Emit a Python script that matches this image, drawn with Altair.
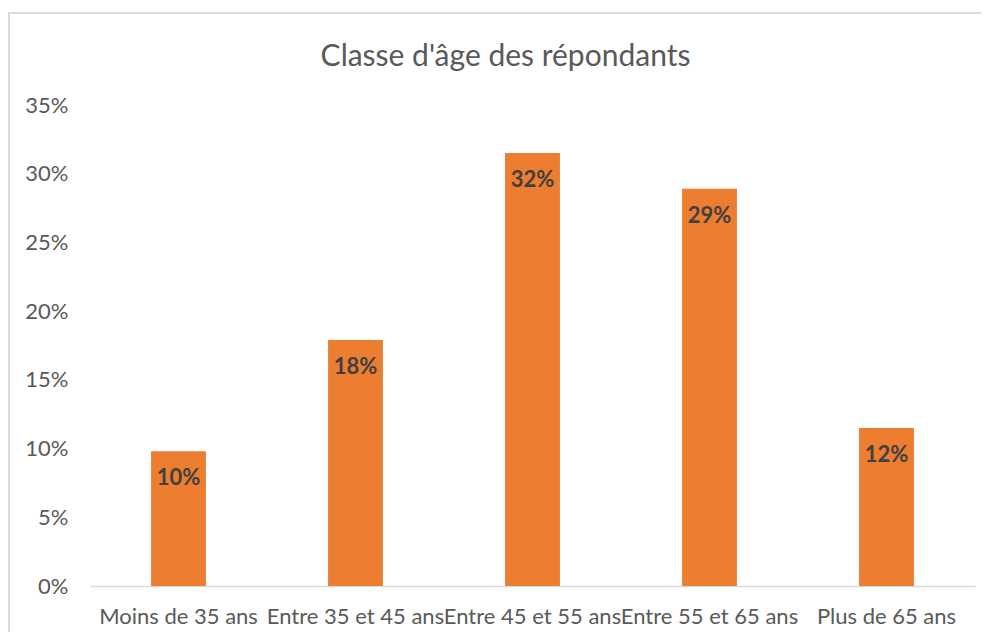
import altair as alt
import pandas as pd

categories = ["Moins de 35 ans", "Entre 35 et 45 ans", "Entre 45 et 55 ans",
              "Entre 55 et 65 ans", "Plus de 65 ans"]
values = [0.098, 0.179, 0.315, 0.289, 0.115]
labels = ["10%", "18%", "32%", "29%", "12%"]

df = pd.DataFrame({"cat": categories, "val": values, "lab": labels})

FONT = "Lato"
GREY = "#595959"

x_enc = alt.X("cat:N", sort=categories, title=None,
              scale=alt.Scale(paddingInner=0.69, paddingOuter=0.345),
              axis=alt.Axis(labelAngle=0, labelFontSize=22, labelColor=GREY, labelFont=FONT,
                            ticks=False, domainColor="#d9d9d9", domainWidth=1.5,
                            labelPadding=20, labelLimit=300))
y_enc = alt.Y("val:Q", title=None,
              scale=alt.Scale(domain=[0, 0.35], nice=False),
              axis=alt.Axis(format=".0%", values=[0, 0.05, 0.1, 0.15, 0.2, 0.25, 0.3, 0.35],
                            grid=False, domain=False, ticks=False, labelFontSize=22,
                            labelColor=GREY, labelFont=FONT, labelPadding=22))

border = alt.Chart(df).mark_rect(filled=False, stroke="#d9d9d9", strokeWidth=2).encode(
    x=alt.value(-81), x2=alt.value(920), y=alt.value(-92), y2=alt.value(560)
)

bars = alt.Chart(df).mark_bar(color="#ED7D31").encode(x=x_enc, y=y_enc)

text = alt.Chart(df).mark_text(dy=27, baseline="middle", fontWeight="bold", fontSize=22,
                               color="#404040", font=FONT).encode(
    x=alt.X("cat:N", sort=categories), y="val:Q", text="lab:N")

chart = alt.layer(border, bars, text).properties(
    width=885, height=481,
    title=alt.TitleParams("Classe d'âge des répondants", font=FONT, fontSize=30,
                          fontWeight="normal", color=GREY, anchor="middle", dx=-27,
                          frame="group", baseline="middle", offset=-75),
    autosize=alt.AutoSizeParams(type="none"),
    padding={"left": 82, "top": 97, "right": 6, "bottom": 46},
    background="white",
).configure_view(stroke=None)

chart.save("out.html", embed_options={"renderer": "svg", "actions": False})
